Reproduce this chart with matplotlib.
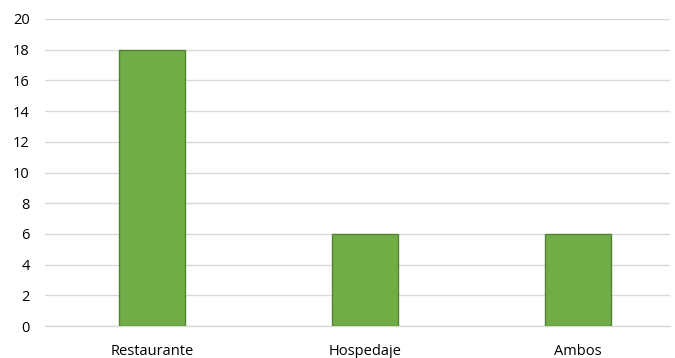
import matplotlib
matplotlib.use("Agg")
import matplotlib.pyplot as plt

categories = ["Restaurante", "Hospedaje", "Ambos"]
values = [18, 6, 6]
y_ticks = [0, 2, 4, 6, 8, 10, 12, 14, 16, 18, 20]

plt.rcParams["font.family"] = ["Open Sans", "DejaVu Sans"]

fig = plt.figure(figsize=(6.75, 3.58), dpi=100)
ax = fig.add_axes([45 / 675, 32 / 358, 625 / 675, 307 / 358])

x = list(range(len(categories)))
ax.bar(x, values, width=0.31, color="#70AD47", edgecolor="#548235",
       linewidth=1.0, zorder=3)

ax.set_xlim(-0.502, 2.432)
ax.set_ylim(0, 20)
ax.set_yticks(y_ticks)
ax.set_yticklabels([str(v) for v in y_ticks], fontsize=10.5, color="#000000")
ax.set_xticks(x)
ax.set_xticklabels(categories, fontsize=10.5, color="#000000")

ax.grid(axis="y", color="#D9D9D9", linewidth=1.0, zorder=0)
ax.set_axisbelow(True)
for side in ["top", "right", "left"]:
    ax.spines[side].set_visible(False)
ax.spines["bottom"].set_color("#D9D9D9")
ax.spines["bottom"].set_linewidth(1.0)
ax.tick_params(axis="both", length=0)
ax.tick_params(axis="y", pad=11)
ax.tick_params(axis="x", pad=13)

fig.savefig("out.png", dpi=100)
